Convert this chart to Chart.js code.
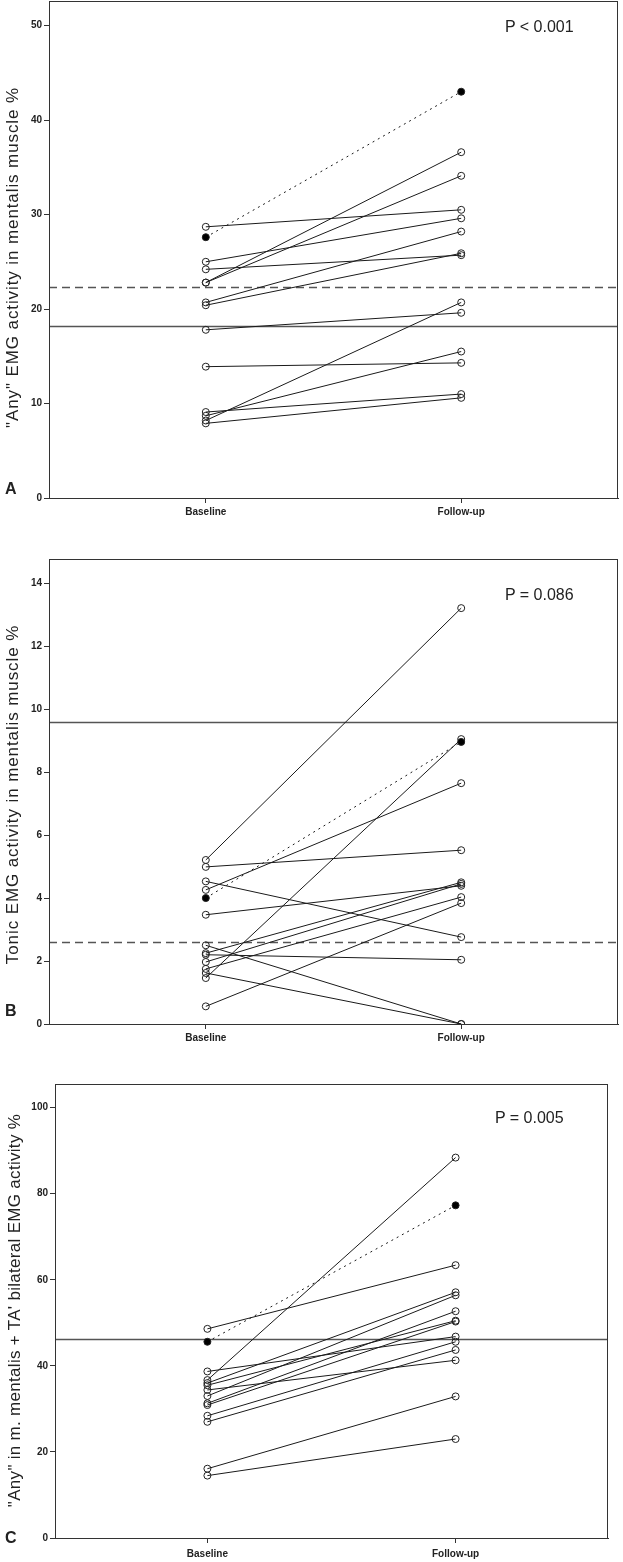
<!DOCTYPE html>
<html>
<head>
<meta charset="utf-8">
<script src="https://cdn.jsdelivr.net/npm/chart.js@4.4.1/dist/chart.umd.min.js"></script>
<style>
  body { margin: 0; background: #fff; }
  #wrap { position: relative; width: 623px; height: 1562px; overflow: hidden;
          font-family: "Liberation Sans", Arial, sans-serif; color: #222; }
  canvas { position: absolute; left: 0; }
  .ytitle { position: absolute; width: 440px; height: 17px; font-size: 17px; line-height: 17px;
            white-space: nowrap; text-align: center; transform: rotate(-90deg); }
  .pval { position: absolute; font-size: 16px; line-height: 16px; white-space: nowrap; }
  .letter { position: absolute; font-size: 16px; line-height: 16px; font-weight: bold; }
</style>
</head>
<body>
<div id="wrap">
  <canvas id="chartA" width="623" height="527" style="top:-7px"></canvas>
  <canvas id="chartB" width="623" height="506" style="top:540px"></canvas>
  <canvas id="chartC" width="623" height="502" style="top:1060px"></canvas>

  <div class="ytitle" style="left:-208px; top:249px; letter-spacing:0.9px">"Any" EMG activity in mentalis muscle %</div>
  <div class="ytitle" style="left:-208px; top:786px; letter-spacing:0.9px">Tonic EMG activity in mentalis muscle %</div>
  <div class="ytitle" style="left:-206px; top:1302px; letter-spacing:0.3px">"Any" in m. mentalis + TA' bilateral EMG activity %</div>

  <div class="pval" style="left:505px; top:19px">P &lt; 0.001</div>
  <div class="pval" style="left:505px; top:587px">P = 0.086</div>
  <div class="pval" style="left:495px; top:1110px">P = 0.005</div>

  <div class="letter" style="left:5px; top:481px">A</div>
  <div class="letter" style="left:5px; top:1003px">B</div>
  <div class="letter" style="left:5px; top:1530px">C</div>
</div>

<script>
// x categories
const categories = ['Baseline', 'Follow-up'];

// panel A: "Any" EMG activity in mentalis muscle %
const baselineA = [27.6, 28.7, 25.0, 22.8, 22.8, 20.7, 20.4, 24.2, 17.8, 13.9, 9.1, 8.7, 8.2, 7.9];
const followUpA = [43.0, 30.5, 29.6, 36.6, 34.1, 28.2, 25.9, 25.7, 19.6, 14.3, 11.0, 15.5, 20.7, 10.6];
const yTicksA = [0, 10, 20, 30, 40, 50];
const solidRefA = [18.2];
const dashedRefA = [22.3];

// panel B: Tonic EMG activity in mentalis muscle %
const baselineB = [4.0, 5.21, 4.99, 4.53, 4.26, 3.47, 2.5, 2.25, 2.2, 1.97, 1.75, 1.62, 1.46, 0.56];
const followUpB = [8.96, 13.21, 5.52, 2.76, 7.65, 4.39, 0, 4.5, 2.04, 4.45, 4.03, 0, 9.05, 3.84];
const yTicksB = [0, 2, 4, 6, 8, 10, 12, 14];
const solidRefB = [9.6];
const dashedRefB = [2.6];

// panel C: "Any" in m. mentalis + TA bilateral EMG activity %
const baselineC = [45.6, 48.6, 36.7, 38.7, 36.0, 35.5, 34.4, 33.0, 31.3, 30.9, 28.4, 27.0, 16.1, 14.5];
const followUpC = [77.3, 63.4, 88.4, 46.8, 57.1, 50.5, 41.3, 56.4, 52.7, 50.3, 45.6, 43.7, 32.9, 23.0];
const yTicksC = [0, 20, 40, 60, 80, 100];
const solidRefC = [46.3];
const dashedRefC = [];

// the patient drawn with filled dots and a dotted line
const highlighted = 0;

// box round the plot area + horizontal reference lines
const framePlugin = {
  id: 'frame',
  beforeDatasetsDraw(chart, args, opts) {
    const { ctx, chartArea: a, scales: { y } } = chart;
    const draw = (v, dash) => {
      const py = Math.round(y.getPixelForValue(v)) + 0.5;
      ctx.save();
      ctx.strokeStyle = '#555';
      ctx.lineWidth = 1.3;
      ctx.setLineDash(dash);
      ctx.beginPath();
      ctx.moveTo(a.left, py);
      ctx.lineTo(a.right, py);
      ctx.stroke();
      ctx.restore();
    };
    (opts.solid || []).forEach(v => draw(v, []));
    (opts.dashed || []).forEach(v => draw(v, [8, 5]));
  },
  afterDraw(chart) {
    const { ctx, chartArea: a } = chart;
    ctx.save();
    ctx.strokeStyle = '#333';
    ctx.lineWidth = 1;
    ctx.strokeRect(a.left + 0.5, a.top + 0.5, a.right - a.left - 1, a.bottom - a.top);
    ctx.restore();
  }
};

const tickFont = { family: 'Liberation Sans', weight: 'bold', size: 10 };

function makePanel(id, base, follow, yMax, yTicks, solid, dashed, lay) {
  const datasets = base.map((b, i) => ({
    data: [{ x: 1, y: b }, { x: 2, y: follow[i] }],
    showLine: true,
    borderColor: '#1a1a1a',
    borderWidth: 1,
    borderDash: i === highlighted ? [2, 4] : [],
    pointRadius: 3.5,
    pointBorderWidth: 1,
    pointBorderColor: '#222',
    pointBackgroundColor: i === highlighted ? '#000' : 'rgba(255,255,255,0)'
  }));

  new Chart(document.getElementById(id), {
    type: 'scatter',
    data: { datasets },
    plugins: [framePlugin],
    options: {
      responsive: false,
      animation: false,
      devicePixelRatio: 1,
      layout: { padding: { top: lay.top, right: lay.right, left: 0, bottom: 0 } },
      plugins: {
        legend: { display: false },
        tooltip: { enabled: false },
        frame: { solid, dashed }
      },
      scales: {
        x: {
          type: 'linear',
          min: 0.386,
          max: 2.614,
          afterBuildTicks: s => { s.ticks = categories.map((c, i) => ({ value: i + 1 })); },
          afterFit: s => { s.height = lay.xh; },
          ticks: {
            callback: v => categories[v - 1] || '',
            font: tickFont, color: '#222', padding: lay.xpad, maxRotation: 0, autoSkip: false
          },
          grid: { drawOnChartArea: false, tickLength: 5, color: '#333' },
          border: { color: '#333' }
        },
        y: {
          min: 0,
          max: yMax,
          afterBuildTicks: s => { s.ticks = yTicks.map(v => ({ value: v })); },
          afterFit: s => { s.width = lay.yw; },
          ticks: { font: tickFont, color: '#222', padding: 2 },
          grid: { drawOnChartArea: false, tickLength: 5, color: '#333' },
          border: { color: '#333' }
        }
      }
    }
  });
}

makePanel('chartA', baselineA, followUpA, 52.6, yTicksA, solidRefA, dashedRefA,
  { top: 2, right: 1, yw: 49, xh: 22, xpad: 3 });
makePanel('chartB', baselineB, followUpB, 14.77, yTicksB, solidRefB, dashedRefB,
  { top: 19, right: 1, yw: 49, xh: 22, xpad: 3 });
makePanel('chartC', baselineC, followUpC, 105.5, yTicksC, solidRefC, dashedRefC,
  { top: 24, right: 15, yw: 55, xh: 24, xpad: 5 });
</script>
</body>
</html>
